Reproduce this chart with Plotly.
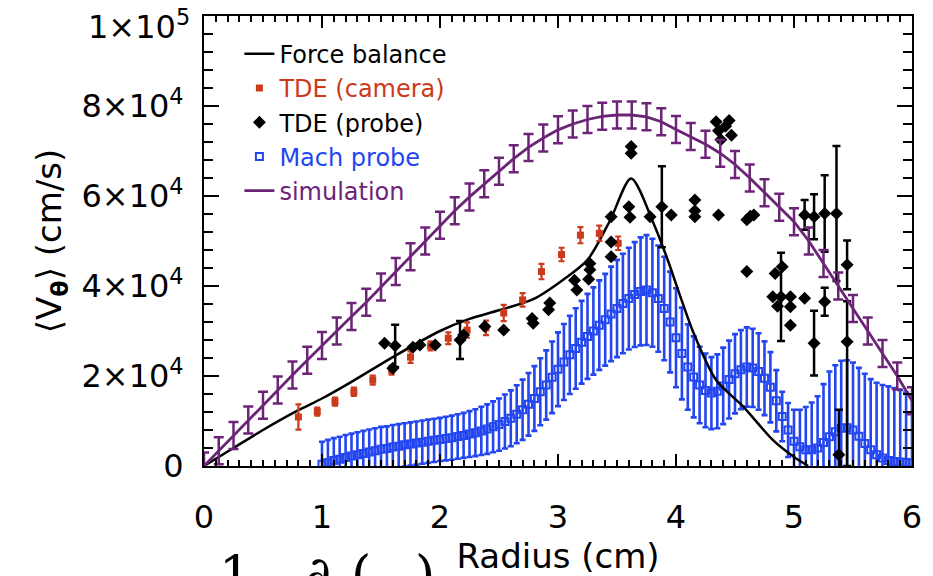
import plotly.graph_objects as go

# ---------------- data ----------------
# simulation profile (with error bars)
sim_r = [0.0, 0.125, 0.25, 0.375, 0.5, 0.625, 0.75, 0.875, 1.0, 1.125, 1.25, 1.375,
         1.5, 1.625, 1.75, 1.875, 2.0, 2.125, 2.25, 2.375, 2.5, 2.625, 2.75, 2.875,
         3.0, 3.125, 3.25, 3.375, 3.5, 3.625, 3.75, 3.875, 4.0, 4.125, 4.25, 4.375,
         4.5, 4.625, 4.75, 4.875, 5.0, 5.125, 5.25, 5.375, 5.5, 5.625, 5.75, 5.875, 6.0]
sim_v = [0, 3400, 6800, 10200, 13500, 16900, 20200, 23500, 26800, 30000, 33200, 36400,
         39800, 43200, 46500, 50000, 53500, 56700, 59800, 62700, 65500, 68300, 70800, 72900,
         74700, 76000, 77000, 77700, 78000, 78000, 77600, 76500, 74800, 73200, 71500, 69500,
         67000, 64000, 60700, 57500, 54300, 50000, 45000, 40000, 35000, 30000, 25000, 20000, 14500]
sim_err = [3000] * len(sim_r)

# force balance profile
fb_r = [0.0, 0.25, 0.5, 0.8, 1.0, 1.25, 1.6, 2.0, 2.25, 2.5, 2.8, 3.05, 3.25, 3.44,
        3.62, 3.81, 3.92, 4.15, 4.34, 4.57, 4.82, 5.0, 5.12]
fb_v = [0, 4000, 8000, 12400, 15000, 18700, 24200, 30000, 32700, 34600, 37200, 41500,
        45800, 54500, 63900, 53900, 46500, 29500, 19100, 13200, 5800, 2000, 0]

# TDE (camera)
cam_r = [0.80, 0.96, 1.11, 1.27, 1.43, 1.59, 1.75, 1.92, 2.07, 2.23, 2.39, 2.54,
         2.70, 2.86, 3.03, 3.19, 3.35, 3.51]
cam_v = [10900, 12100, 14300, 16500, 19100, 21300, 24200, 26700, 28400, 30200, 30700,
         34000, 36900, 43200, 47000, 51300, 51700, 49500]
cam_err = [2800, 900, 900, 900, 1000, 1000, 1300, 1000, 1300, 1700, 1600, 1800,
           1500, 1700, 1500, 1800, 1700, 1500]

# TDE (probe) points carrying error bars
pe_r = [1.62, 2.17, 3.88, 4.89, 5.09, 5.17, 5.17, 5.26, 5.26, 5.36, 5.38, 5.45, 5.45]
pe_v = [26700, 28000, 57600, 37600, 55800, 55400, 27300, 56100, 36500, 56100, 2500, 44700, 27600]
pe_up = [4700, 4200, 9000, 9800, 3300, 5000, 7200, 8500, 3100, 15000, 10000, 5400, 9000]
pe_dn = [4700, 4200, 9000, 9800, 3300, 5000, 7200, 8500, 3100, 15000, 10000, 5400, 27600]

# TDE (probe) points without error bars
pn_r = [1.53, 1.60, 1.77, 1.83, 1.96, 2.20, 2.38, 2.54, 2.78, 2.79, 2.92, 2.93,
        3.14, 3.16, 3.27, 3.27, 3.26, 3.45, 3.45, 3.45, 3.60, 3.61, 3.62, 3.62,
        3.78, 3.96, 4.16, 4.16, 4.16, 4.36, 4.34, 4.36, 4.38, 4.42, 4.45, 4.47,
        4.60, 4.63, 4.66, 4.60, 4.84, 4.90, 4.82, 4.86, 4.97, 4.97, 4.97, 5.09]
pn_v = [27300, 21700, 26400, 26900, 26900, 29100, 31000, 30200, 32800, 31700, 34700, 36200,
        41300, 39100, 45000, 43600, 41500, 55400, 49800, 46500, 57600, 55300, 71000, 69500,
        55400, 55800, 59100, 56700, 55400, 55800, 76500, 74500, 72500, 75500, 76800, 73500,
        54700, 55500, 55800, 43200, 42800, 44300, 37600, 35500, 37600, 35400, 31300, 37300]

# Mach probe
mach_r = [1.00, 1.05, 1.10, 1.15, 1.20, 1.25, 1.30, 1.35, 1.40, 1.45, 1.50, 1.55, 1.60,
          1.65, 1.70, 1.75, 1.80, 1.85, 1.90, 1.95, 2.00, 2.05, 2.10, 2.15, 2.20, 2.25,
          2.30, 2.35, 2.40, 2.45, 2.50, 2.55, 2.60, 2.65, 2.70, 2.75, 2.80, 2.85, 2.90,
          2.95, 3.00, 3.05, 3.10, 3.15, 3.20, 3.25, 3.30, 3.35, 3.40, 3.45, 3.50, 3.55,
          3.60, 3.65, 3.70, 3.75, 3.80, 3.85, 3.90, 3.95, 4.00, 4.05, 4.10, 4.15, 4.20,
          4.25, 4.30, 4.35, 4.40, 4.45, 4.50, 4.55, 4.60, 4.65, 4.70, 4.75, 4.80, 4.85,
          4.90, 4.95, 5.00, 5.05, 5.10, 5.15, 5.20, 5.25, 5.30, 5.35, 5.40, 5.45, 5.50,
          5.55, 5.60, 5.65, 5.70, 5.75, 5.80, 5.85, 5.90, 5.95, 6.00]
mach_v = [400, 800, 1200, 1500, 1900, 2200, 2500, 2800, 3100, 3400, 3700, 3900, 4200,
          4400, 4700, 4900, 5100, 5300, 5500, 5700, 5900, 6100, 6300, 6550, 6800, 7100,
          7400, 7800, 8200, 8700, 9200, 9900, 10600, 11500, 12500, 13700, 15000, 16500, 18000,
          19700, 21500, 23100, 24700, 26100, 27500, 28800, 30000, 31300, 32500, 33800, 35000, 36100,
          37200, 38100, 38800, 39100, 38500, 37200, 35000, 32000, 28500, 25000, 22000, 19800, 18000,
          16800, 16200, 16600, 17800, 19200, 20500, 21400, 22000, 21800, 21000, 19500, 17500, 14500,
          11000, 8000, 5500, 4300, 3600, 3600, 4000, 5200, 6500, 7600, 8400, 8500, 8000,
          6600, 5000, 3600, 2500, 1800, 1200, 1000, 900, 800, 700]
mach_err = [5000, 5000, 5000, 5000, 5000, 5000, 5000, 5000, 5000, 5000, 5000, 4900, 4900,
            4900, 4800, 4800, 4800, 4800, 4800, 4800, 4800, 4850, 4900, 4950, 5000, 5100,
            5200, 5350, 5500, 5650, 5800, 6000, 6200, 6450, 6700, 6950, 7200, 7450, 7700,
            7950, 8200, 8450, 8700, 8950, 9200, 9450, 9700, 9950, 10200, 10500, 10800, 11050,
            11300, 11650, 12000, 12200, 12000, 11800, 11500, 11200, 11000, 10200, 9500, 9000, 8500,
            8200, 8000, 8200, 8500, 8650, 8800, 8800, 8800, 8700, 8500, 8200, 7800, 6800,
            5500, 6000, 7000, 8200, 9500, 10500, 11500, 13000, 14500, 14800, 15000, 15000, 15000,
            15200, 15500, 15700, 16000, 16200, 16500, 16300, 16000, 15500, 15000]

# axis labels
y_tickvals = [0, 20000, 40000, 60000, 80000, 100000]
y_ticktext = ["0", "2×10<sup>4</sup>", "4×10<sup>4</sup>", "6×10<sup>4</sup>",
              "8×10<sup>4</sup>", "1×10<sup>5</sup>"]
x_tickvals = [0, 1, 2, 3, 4, 5, 6]

# ---------------- styling ----------------
BLACK = "#000000"
RED = "#cc3a1c"
BLUE = "#2346f0"
PURPLE = "#6c2477"
FONT = "DejaVu Sans"
TICK_SIZE = 32

fig = go.Figure()

# Mach probe
fig.add_trace(go.Scatter(
    x=mach_r, y=mach_v, mode="markers",
    name=f"<span style='color:{BLUE}'>Mach probe</span>",
    legendrank=4,
    marker=dict(symbol="square-open", size=7, color=BLUE, line=dict(width=2, color=BLUE)),
    error_y=dict(type="data", array=mach_err, color=BLUE, thickness=2.6, width=3),
))

# force balance
fig.add_trace(go.Scatter(
    x=fb_r, y=fb_v, mode="lines", name="Force balance", legendrank=1,
    line=dict(color=BLACK, width=2.5, shape="spline", smoothing=0.8),
))

# TDE camera
fig.add_trace(go.Scatter(
    x=cam_r, y=cam_v, mode="markers",
    name=f"<span style='color:{RED}'>TDE (camera)</span>", legendrank=2,
    marker=dict(symbol="square", size=7, color=RED),
    error_y=dict(type="data", array=cam_err, color=RED, thickness=2.2, width=3),
))

# TDE probe
fig.add_trace(go.Scatter(
    x=pn_r, y=pn_v, mode="markers", name="TDE (probe)", legendrank=3,
    legendgroup="probe",
    marker=dict(symbol="diamond", size=10, color=BLACK),
))
fig.add_trace(go.Scatter(
    x=pe_r, y=pe_v, mode="markers", name="TDE (probe)", showlegend=False,
    legendgroup="probe",
    marker=dict(symbol="diamond", size=10, color=BLACK),
    error_y=dict(type="data", symmetric=False, array=pe_up, arrayminus=pe_dn,
                 color=BLACK, thickness=2.5, width=4),
))

# simulation
fig.add_trace(go.Scatter(
    x=sim_r, y=sim_v, mode="lines",
    name=f"<span style='color:{PURPLE}'>simulation</span>", legendrank=5,
    line=dict(color=PURPLE, width=2.8),
    error_y=dict(type="data", array=sim_err, color=PURPLE, thickness=2.5, width=5),
))

axis_common = dict(
    showline=True, linecolor=BLACK, linewidth=2, mirror="ticks",
    ticks="inside", tickcolor=BLACK, tickwidth=2,
    showgrid=False, zeroline=False, automargin=False,
    tickfont=dict(family=FONT, size=TICK_SIZE, color=BLACK),
)

fig.update_xaxes(
    **axis_common, range=[0, 6], tickvals=x_tickvals, ticklen=12,
    ticklabelstandoff=22,
    minor=dict(ticks="inside", dtick=0.1, ticklen=6, tickwidth=1.5, tickcolor=BLACK, showgrid=False),
    title=dict(text="Radius (cm)", font=dict(family=FONT, size=34, color=BLACK), standoff=4),
)

# the topmost label sits a little lower so it stays inside the page
axis_ticktext = y_ticktext[:-1] + [""]
fig.update_yaxes(
    **axis_common, range=[0, 100000], tickvals=y_tickvals, ticktext=axis_ticktext,
    ticklen=15, ticklabelstandoff=12, ticklabeloverflow="allow",
    minor=dict(ticks="inside", dtick=4000, ticklen=9, tickwidth=1.5, tickcolor=BLACK, showgrid=False),
    title=dict(text="⟨V<sub><b>θ</b></sub>⟩ (cm/s)", font=dict(family=FONT, size=34, color=BLACK),
               standoff=10),
)
fig.add_annotation(text=y_ticktext[-1], x=0, xref="paper", y=y_tickvals[-1], yref="y",
                   xanchor="right", yanchor="middle", xshift=-12, yshift=-9,
                   showarrow=False, font=dict(family=FONT, size=TICK_SIZE, color=BLACK))

# equation fragment running below the figure
for txt, xp in [("1", 0.045), ("∂", 0.161), ("(", 0.222), (")", 0.312)]:
    fig.add_annotation(text=txt, x=xp, y=-0.17, xref="paper", yref="paper",
                       xanchor="center", yanchor="top", showarrow=False,
                       font=dict(family="DejaVu Serif", size=52, color=BLACK))

fig.update_layout(
    width=933, height=576,
    margin=dict(l=204, r=21, t=16, b=110, autoexpand=False),
    plot_bgcolor="white", paper_bgcolor="white",
    legend=dict(x=0.05, y=0.965, xanchor="left", yanchor="top",
                font=dict(family=FONT, size=24, color=BLACK),
                bgcolor="rgba(0,0,0,0)", borderwidth=0, tracegroupgap=0),
    showlegend=True,
)

fig.write_html("out.html")
